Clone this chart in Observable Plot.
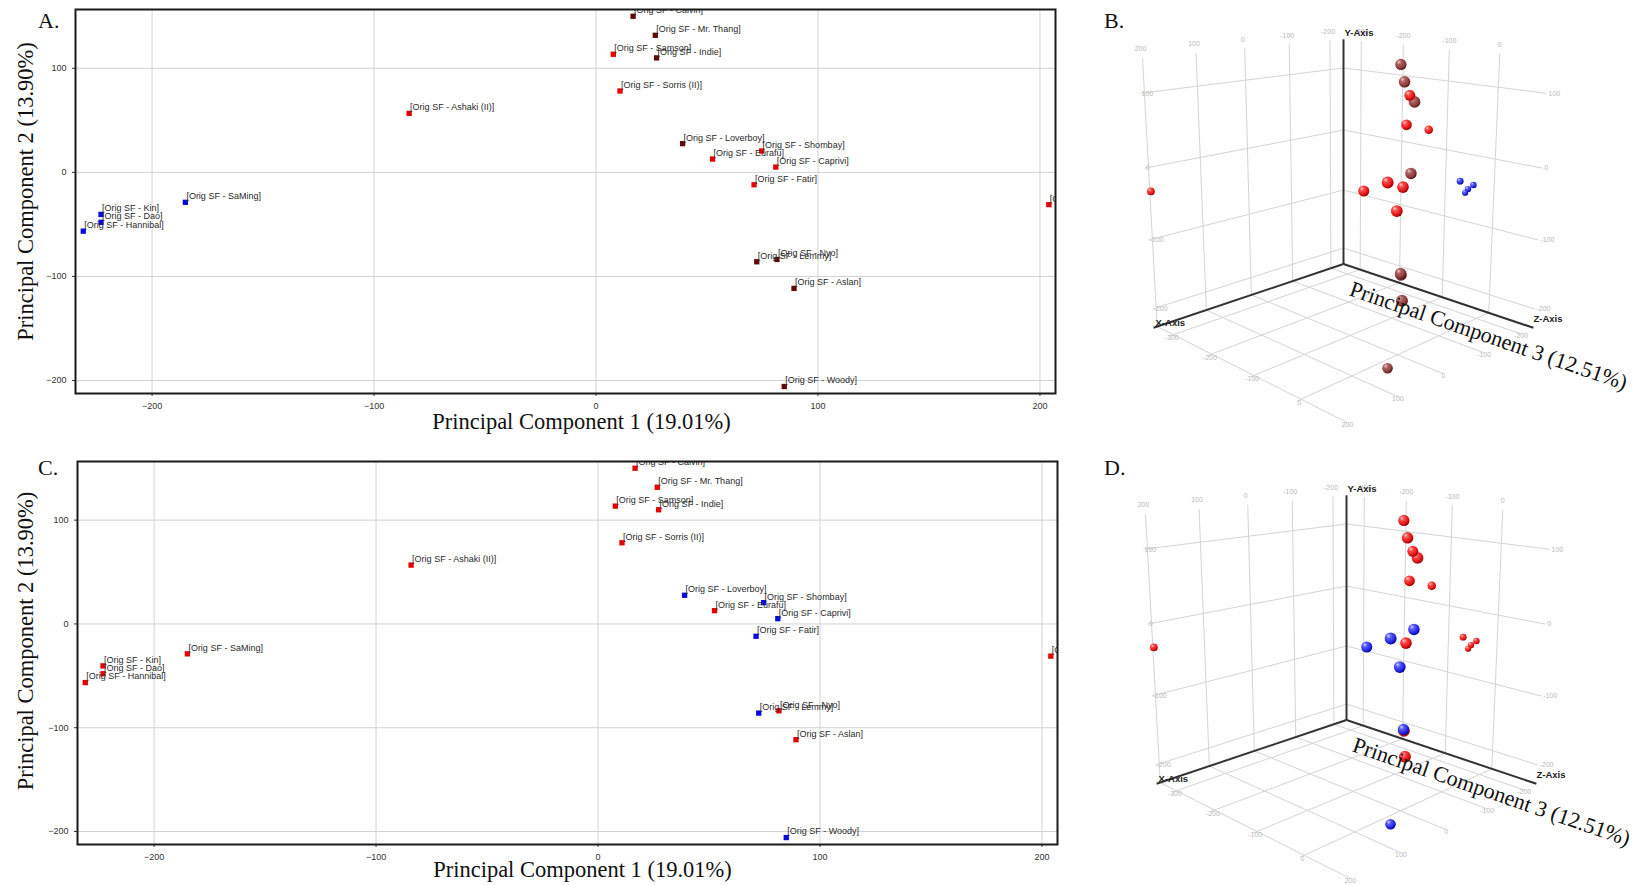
<!DOCTYPE html>
<html><head><meta charset="utf-8">
<script src="https://cdn.jsdelivr.net/npm/d3@7"></script>
<script src="https://cdn.jsdelivr.net/npm/@observablehq/plot@0.6"></script>
<style>
body{margin:0;background:#fff;}
#page{position:relative;width:1640px;height:885px;overflow:hidden;background:#fff;}
.panel{position:absolute;}
</style></head><body>
<div id="page">
<svg width="0" height="0" style="position:absolute;left:0;top:0">
<defs>
<radialGradient id="gRed" cx="0.38" cy="0.35" r="0.68" fx="0.32" fy="0.28">
<stop offset="0" stop-color="#ffd2d2"/><stop offset="0.3" stop-color="#ff4a4a"/><stop offset="0.75" stop-color="#e01212"/><stop offset="1" stop-color="#8c0000"/>
</radialGradient>
<radialGradient id="gMaroon" cx="0.38" cy="0.35" r="0.68" fx="0.32" fy="0.28">
<stop offset="0" stop-color="#e8caca"/><stop offset="0.3" stop-color="#b06262"/><stop offset="0.75" stop-color="#8a3a3a"/><stop offset="1" stop-color="#4a1010"/>
</radialGradient>
<radialGradient id="gBlue" cx="0.38" cy="0.35" r="0.68" fx="0.32" fy="0.28">
<stop offset="0" stop-color="#d6d6ff"/><stop offset="0.3" stop-color="#5a5aff"/><stop offset="0.75" stop-color="#2222e0"/><stop offset="1" stop-color="#00008a"/>
</radialGradient>
</defs></svg>
<div class="panel" id="pA" style="left:0;top:0;width:1080px;height:440px"></div>
<div class="panel" id="pB" style="left:1080px;top:0;width:560px;height:440px"></div>
<div class="panel" id="pC" style="left:0;top:440px;width:1080px;height:445px"></div>
<div class="panel" id="pD" style="left:1080px;top:440px;width:560px;height:445px"></div>
<svg style="position:absolute;left:0;top:0;pointer-events:none" width="1640" height="885" font-family="Liberation Serif, Times New Roman, serif" font-size="22" fill="#111">
<text x="38" y="28">A.</text>
<text x="1104" y="28">B.</text>
<text x="38" y="475">C.</text>
<text x="1104" y="475">D.</text>
</svg>
</div>
<script>
// ---- data ----
const names = ["Calvin","Mr. Thang","Samson","Indie","Sorris (II)","Ashaki (II)","Loverboy","Shombay","Eurafu","Caprivi","Fatir","Unknown","Lemmy","Nyo","Aslan","Woody","SaMing","Kin","Dao","Hannibal"];
const pc1 = [16.7, 26.7, 7.8, 27.3, 10.8, -84.2, 39, 74.6, 52.5, 81, 71.2, 204, 72.4, 81.5, 89.2, 84.8, -185, -223, -223, -231];
const pc2 = [150, 131.7, 113.5, 110, 78.2, 56.7, 27.6, 20.5, 12.8, 5.1, -11.9, -31, -85.9, -83.7, -111.5, -205.8, -28.8, -40.4, -48, -56.5];
const pc3 = [12.1, 27.8, 21.6, 46.6, 19.1, -17.7, 52.5, 41.8, 50.2, 3.7, 55.9, -335.8, 65.4, 73.9, 83.1, 54.9, -31.6, -32.7, -43.3, -54.9];
const groupA = ["maroon","maroon","red","maroon","red","red","maroon","red","red","red","red","red","maroon","maroon","maroon","maroon","blue","blue","blue","blue"];
const groupC = ["red","red","red","red","red","red","blue","blue","red","blue","blue","red","blue","red","red","blue","red","red","red","red"];
const ticks2X = [-200, -100, 0, 100, 200];
const ticks2Y = [-200, -100, 0, 100];
const ticks3X = [-200, -100, 0, 100, 200];
const ticks3Y = [-200, -100, 0, 100];
const ticks3Z = [-300, -200, -100, 0];
const titlePC1 = "Principal Component 1 (19.01%)";
const titlePC2 = "Principal Component 2 (13.90%)";
const titlePC3 = "Principal Component 3 (12.51%)";

const flat = {red: "#e60000", maroon: "#5c0a0a", blue: "#0a0ae0"};
const sphere = {red: "url(#gRed)", maroon: "url(#gMaroon)", blue: "url(#gBlue)"};
const serif = "Liberation Serif, Times New Roman, serif";
const sans = "Liberation Sans, Arial, sans-serif";

function panel2D(groups, o) {
  const data = names.map((n, i) => ({name: n, pc1: pc1[i], pc2: pc2[i], color: flat[groups[i]]}));
  return Plot.plot({
    width: 1080, height: o.height,
    marginLeft: o.ml, marginRight: o.mr, marginTop: o.mt, marginBottom: o.mb,
    x: {domain: [-234.5, 207], label: null, axis: null},
    y: {domain: [-212.5, 156.5], label: null, axis: null},
    color: {type: "identity"},
    style: {fontFamily: sans, fontSize: "9px", background: "white", color: "#333"},
    marks: [
      Plot.gridX(ticks2X, {stroke: "#d2d2d2", strokeOpacity: 1}),
      Plot.gridY(ticks2Y, {stroke: "#d2d2d2", strokeOpacity: 1}),
      Plot.axisX(ticks2X, {tickSize: 3, fontSize: 9, label: null}),
      Plot.axisY(ticks2Y, {tickSize: 3, fontSize: 9, label: null}),
      Plot.dot(data, {x: "pc1", y: "pc2", symbol: "square", r: 3, fill: "color", stroke: null}),
      Plot.text(data, {x: "pc1", y: "pc2", text: d => `[Orig SF - ${d.name}]`, textAnchor: "start", dx: 1, dy: -6, fontSize: 9, fill: "#2a2a2a", clip: true}),
      Plot.frame({stroke: "#1a1a1a", strokeWidth: 2}),
      Plot.text([titlePC1], {frameAnchor: "bottom", textAnchor: "middle", dx: o.tdx, dy: o.tdy, fontSize: 22.5, fontFamily: serif, fill: "#111"}),
      Plot.text([titlePC2], {frameAnchor: "left", textAnchor: "middle", rotate: -90, dx: o.ydx, dy: o.ydy, fontSize: 22.5, fontFamily: serif, fill: "#111"})
    ]
  });
}

// ---- 3D perspective projection (camera looking at the box corner) ----
const X3 = {min: -235, max: 207}, Y3 = {min: -228, max: 145}, Z3 = {min: -345, max: 88};
const cam = {phi: 14.2 * Math.PI / 180, k: 3.817, e: 1.355, f: 899};
function project(X, Y, Z, ox, oy) {
  const a = (X - X3.min) / (X3.max - X3.min);
  const b = (Y - Y3.min) / (Y3.max - Y3.min);
  const c = (Z - Z3.min) / (Z3.max - Z3.min);
  const r = (c - a) / Math.SQRT2, d = (a + c) / Math.SQRT2;
  const cp = Math.cos(cam.phi), sp = Math.sin(cam.phi);
  const z = (cam.k - d) * cp + (cam.e - b) * sp;
  const up = (cam.k - d) * sp + (b - cam.e) * cp;
  return {x: ox + cam.f * r / z, y: oy - cam.f * up / z, z};
}

function panel3D(groups, ox, oy, h) {
  const P = (X, Y, Z) => project(X, Y, Z, ox, oy);
  const segs = [];
  const add = (p, q) => segs.push({x1: p.x, y1: p.y, x2: q.x, y2: q.y});
  const labM = [], labS = [];
  for (const t of ticks3X) {
    add(P(t, Y3.min, Z3.min), P(t, Y3.max, Z3.min));
    add(P(t, Y3.min, Z3.min), P(t, Y3.min, Z3.max));
    const p = P(t, Y3.max, Z3.min); labM.push({x: p.x - 2, y: p.y - 9, t: String(t)});
    const q = P(t, Y3.min, Z3.max); labM.push({x: q.x, y: q.y + 2, t: String(t)});
  }
  for (const t of ticks3Y) {
    add(P(X3.min, t, Z3.min), P(X3.max, t, Z3.min));
    add(P(X3.min, t, Z3.min), P(X3.min, t, Z3.max));
    const p = P(X3.max, t, Z3.min); labS.push({x: p.x + 1, y: p.y, t: String(t)});
    const q = P(X3.min, t, Z3.max); labS.push({x: q.x + 2, y: q.y, t: String(t)});
  }
  for (const t of ticks3Z) {
    add(P(X3.min, Y3.min, t), P(X3.min, Y3.max, t));
    add(P(X3.min, Y3.min, t), P(X3.max, Y3.min, t));
    const p = P(X3.min, Y3.max, t); labM.push({x: p.x, y: p.y - 9, t: String(t)});
    const q = P(X3.max, Y3.min, t); labM.push({x: q.x + 2, y: q.y + 2, t: String(t)});
  }
  const O = P(X3.min, Y3.min, Z3.min);
  const Xe = P(X3.max, Y3.min, Z3.min), Ye = P(X3.min, Y3.max, Z3.min), Ze = P(X3.min, Y3.min, Z3.max);
  const axes = [Xe, Ye, Ze].map(p => ({x1: O.x, y1: O.y, x2: p.x, y2: p.y}));
  const axisNames = [
    {x: Xe.x + 2, y: Xe.y - 5, t: "X-Axis"},
    {x: Ye.x + 1, y: Ye.y - 6, t: "Y-Axis"},
    {x: Ze.x, y: Ze.y - 9, t: "Z-Axis"}
  ];
  const pts = names.map((n, i) => {
    const p = P(pc1[i], pc2[i], pc3[i]);
    return {x: p.x, y: p.y, z: p.z, r: 5.8 * Math.pow(2.8 / p.z, 3), fill: sphere[groups[i]]};
  }).sort((u, v) => v.z - u.z);
  return Plot.plot({
    width: 560, height: h, margin: 0,
    x: {type: "identity", axis: null},
    y: {type: "identity", axis: null},
    r: {type: "identity"},
    color: {type: "identity"},
    style: {fontFamily: sans, background: "white"},
    marks: [
      Plot.link(segs, {x1: "x1", y1: "y1", x2: "x2", y2: "y2", stroke: "#d4d4d4", strokeWidth: 1}),
      Plot.text(labM, {x: "x", y: "y", text: "t", fontSize: 7, fill: "#b8b8b8"}),
      Plot.text(labS, {x: "x", y: "y", text: "t", textAnchor: "start", fontSize: 7, fill: "#b8b8b8"}),
      Plot.link(axes, {x1: "x1", y1: "y1", x2: "x2", y2: "y2", stroke: "#333", strokeWidth: 2}),
      Plot.text(axisNames, {x: "x", y: "y", text: "t", textAnchor: "start", fontSize: 9.5, fontWeight: "bold", fill: "#222"}),
      Plot.dot(pts, {x: "x", y: "y", r: "r", fill: "fill", stroke: null}),
      Plot.text([titlePC3], {x: () => O.x + 145, y: () => O.y + 72, rotate: 19, fontSize: 22, fontFamily: serif, fill: "#111"})
    ]
  });
}

document.getElementById("pA").append(panel2D(groupA, {height: 440, ml: 75, mr: 25, mt: 9, mb: 47, tdx: 16, tdy: 35, ydx: -50, ydy: -10}));
document.getElementById("pC").append(panel2D(groupC, {height: 445, ml: 77, mr: 23, mt: 21, mb: 41, tdx: 15, tdy: 32, ydx: -52, ydy: -12}));
document.getElementById("pB").append(panel3D(groupA, 263, 179.4, 440));
document.getElementById("pD").append(panel3D(groupC, 266, 195.4, 445));
</script>
</body></html>
